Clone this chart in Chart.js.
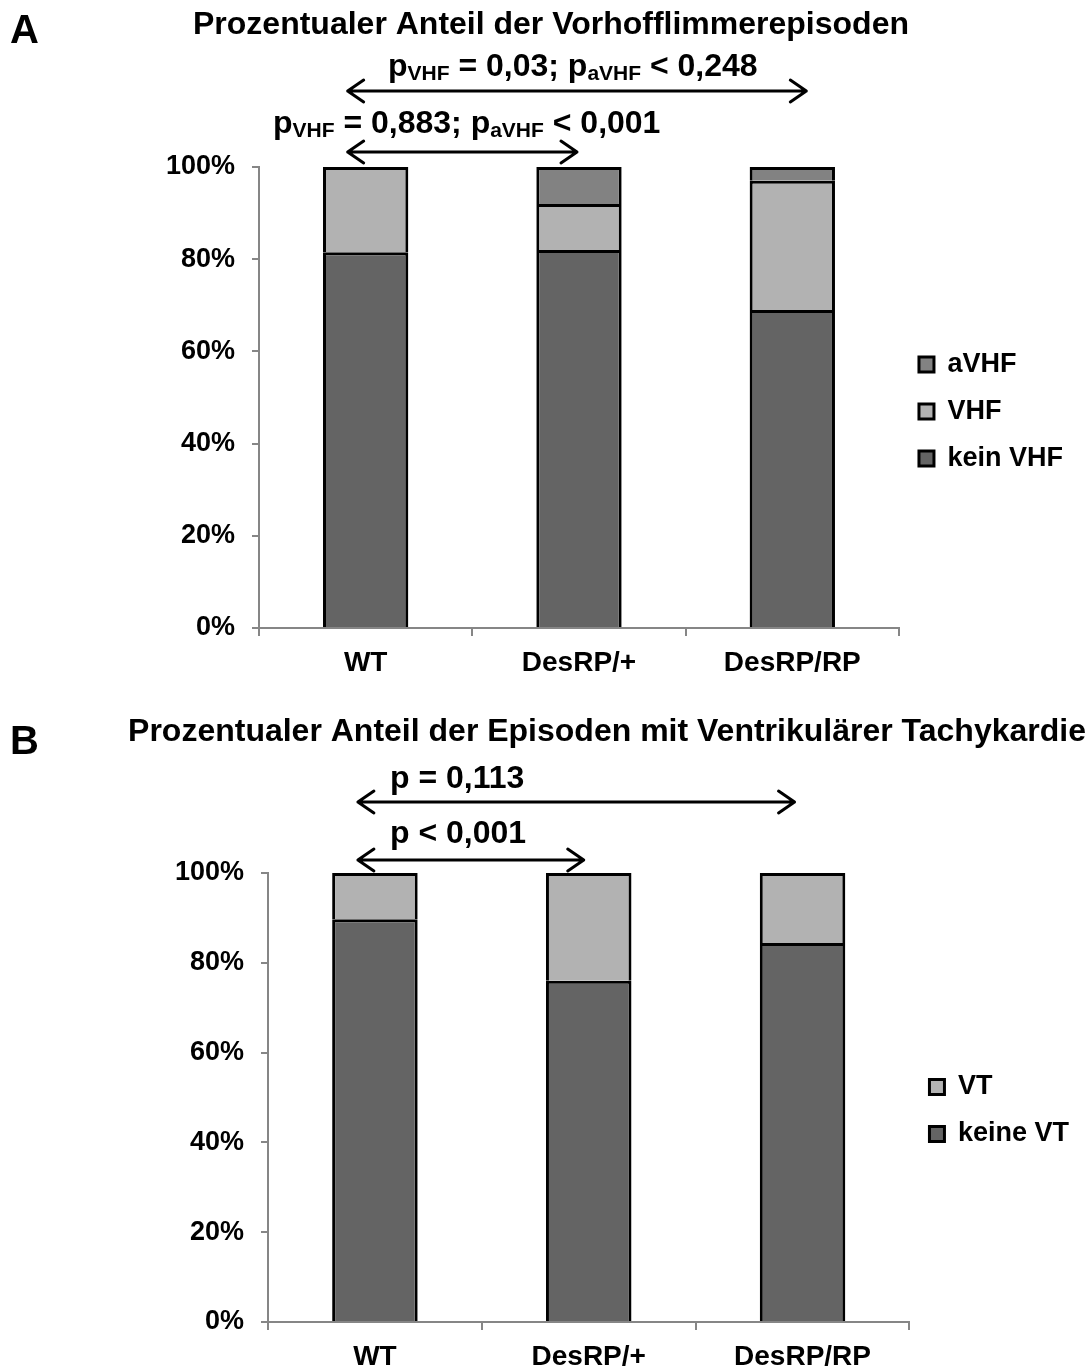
<!DOCTYPE html>
<html>
<head>
<meta charset="utf-8">
<script src="https://cdn.jsdelivr.net/npm/chart.js@4.4.1/dist/chart.umd.min.js"></script>
<style>
  html, body { margin: 0; padding: 0; background: #fff; }
  #wrapA { position: absolute; left: 0; top: 0; width: 1090px; height: 684px; }
  #wrapB { position: absolute; left: 0; top: 684px; width: 1090px; height: 685px; }
</style>
</head>
<body>
<div id="wrapA"><canvas id="chartA" width="1090" height="684"></canvas></div>
<div id="wrapB"><canvas id="chartB" width="1090" height="685"></canvas></div>
<script>
// data
const categories = ['WT', 'DesRP/+', 'DesRP/RP']
const keinVHF = [81.5, 82, 69]
const vhf = [18.5, 10, 28]
const aVHF = [0, 8, 3]
const keineVT = [89.7, 76, 84.4]
const vt = [10.3, 24, 15.6]
const yTickValues = [0, 20, 40, 60, 80, 100]

const FONT = '"Liberation Sans", Arial, sans-serif'
const DARK = '#646464'
const LIGHT = '#b2b2b2'
const MID = '#828282'
const AXIS = '#868686'

// text with subscripts: parts = [[text, isSub], ...]
function drawRich(ctx, parts, x, y) {
  let cx = x
  parts.forEach(([t, sub]) => {
    ctx.font = sub ? 'bold 21px ' + FONT : 'bold 32px ' + FONT
    ctx.fillText(t, cx, sub ? y + 4 : y)
    cx += ctx.measureText(t).width
  })
}

function drawArrow(ctx, x1, x2, y) {
  ctx.save()
  ctx.strokeStyle = '#000'
  ctx.lineWidth = 3
  ctx.lineCap = 'round'
  ctx.lineJoin = 'round'
  ctx.beginPath()
  ctx.moveTo(x1, y)
  ctx.lineTo(x2, y)
  ctx.moveTo(x1 + 16, y - 11)
  ctx.lineTo(x1, y)
  ctx.lineTo(x1 + 16, y + 11)
  ctx.moveTo(x2 - 16, y - 11)
  ctx.lineTo(x2, y)
  ctx.lineTo(x2 - 16, y + 11)
  ctx.stroke()
  ctx.restore()
}

const annotPlugin = {
  id: 'annot',
  afterDraw(chart, args, opts) {
    const ctx = chart.ctx
    const x = chart.scales.x
    ctx.save()
    ctx.fillStyle = '#000'
    ctx.textBaseline = 'alphabetic'
    // panel letter
    ctx.textAlign = 'left'
    ctx.font = 'bold 40px ' + FONT
    ctx.fillText(opts.letter, 10, opts.letterY)
    // title
    ctx.textAlign = 'center'
    ctx.font = 'bold 32px ' + FONT
    ctx.fillText(opts.title, opts.titleX, opts.titleY)
    // p values
    ctx.textAlign = 'left'
    opts.pTexts.forEach(p => drawRich(ctx, p.parts, p.x, p.y))
    // arrows between groups
    opts.arrows.forEach(a => {
      drawArrow(ctx, x.getPixelForValue(a.from) + a.dx1, x.getPixelForValue(a.to) + a.dx2, a.y)
    })
    ctx.restore()
  }
}

function barSet(label, data, color) {
  return {
    label: label,
    data: data,
    backgroundColor: color,
    borderColor: '#000',
    borderWidth: 3,
    barPercentage: 0.4,
    categoryPercentage: 1
  }
}

function makeChart(id, datasets, cfg) {
  const ctx = document.getElementById(id).getContext('2d')
  return new Chart(ctx, {
    type: 'bar',
    data: { labels: categories, datasets: datasets },
    plugins: [annotPlugin],
    options: {
      responsive: false,
      animation: false,
      layout: { padding: { top: cfg.top, right: cfg.right, left: 0, bottom: 0 } },
      plugins: {
        tooltip: { enabled: false },
        legend: {
          position: 'right',
          align: 'center',
          fullSize: false,
          reverse: true,
          // empty title only nudges the entries down a little
          title: { display: true, text: '', font: { size: 10 }, padding: cfg.legendShift },
          labels: {
            color: '#000',
            boxWidth: 15,
            boxHeight: 15,
            padding: 20,
            font: { family: FONT, size: 27, weight: 'bold' }
          }
        },
        annot: cfg.annot
      },
      scales: {
        x: {
          stacked: true,
          afterFit: s => { s.height = cfg.xHeight },
          border: { color: AXIS, width: 2 },
          grid: { offset: true, drawOnChartArea: false, color: AXIS, lineWidth: 2, tickLength: 8 },
          ticks: { color: '#000', padding: cfg.xPad, font: { family: FONT, size: 28, weight: 'bold' } }
        },
        y: {
          stacked: true,
          min: 0,
          max: 100,
          afterFit: s => { s.width = cfg.yWidth },
          afterBuildTicks: s => { s.ticks = yTickValues.map(v => ({ value: v })) },
          border: { color: AXIS, width: 2 },
          grid: { drawOnChartArea: false, color: AXIS, lineWidth: 2, tickLength: 7 },
          ticks: {
            color: '#000',
            padding: 17,
            font: { family: FONT, size: 27, weight: 'bold' },
            callback: v => v + '%'
          }
        }
      }
    }
  })
}

makeChart('chartA', [
  barSet('kein VHF', keinVHF, DARK),
  barSet('VHF', vhf, LIGHT),
  barSet('aVHF', aVHF, MID)
], {
  top: 167, right: 17, xHeight: 56, xPad: 10, yWidth: 259, legendShift: 8,
  annot: {
    letter: 'A', letterY: 43,
    title: 'Prozentualer Anteil der Vorhofflimmerepisoden', titleX: 551, titleY: 34,
    pTexts: [
      { x: 388, y: 76, parts: [['p', false], ['VHF', true], [' = 0,03; p', false], ['aVHF', true], [' < 0,248', false]] },
      { x: 273, y: 133, parts: [['p', false], ['VHF', true], [' = 0,883; p', false], ['aVHF', true], [' < 0,001', false]] }
    ],
    arrows: [
      { from: 0, to: 2, dx1: -18, dx2: 14, y: 91 },
      { from: 0, to: 1, dx1: -18, dx2: -2, y: 152 }
    ]
  }
})

makeChart('chartB', [
  barSet('keine VT', keineVT, DARK),
  barSet('VT', vt, LIGHT)
], {
  top: 189, right: 11, xHeight: 47, xPad: 10, yWidth: 268, legendShift: 7,
  annot: {
    letter: 'B', letterY: 70,
    title: 'Prozentualer Anteil der Episoden mit Ventrikulärer Tachykardie', titleX: 607, titleY: 57,
    pTexts: [
      { x: 390, y: 104, parts: [['p = 0,113', false]] },
      { x: 390, y: 159, parts: [['p < 0,001', false]] }
    ],
    arrows: [
      { from: 0, to: 2, dx1: -17, dx2: -8, y: 118 },
      { from: 0, to: 1, dx1: -17, dx2: -5, y: 176 }
    ]
  }
})
</script>
</body>
</html>
